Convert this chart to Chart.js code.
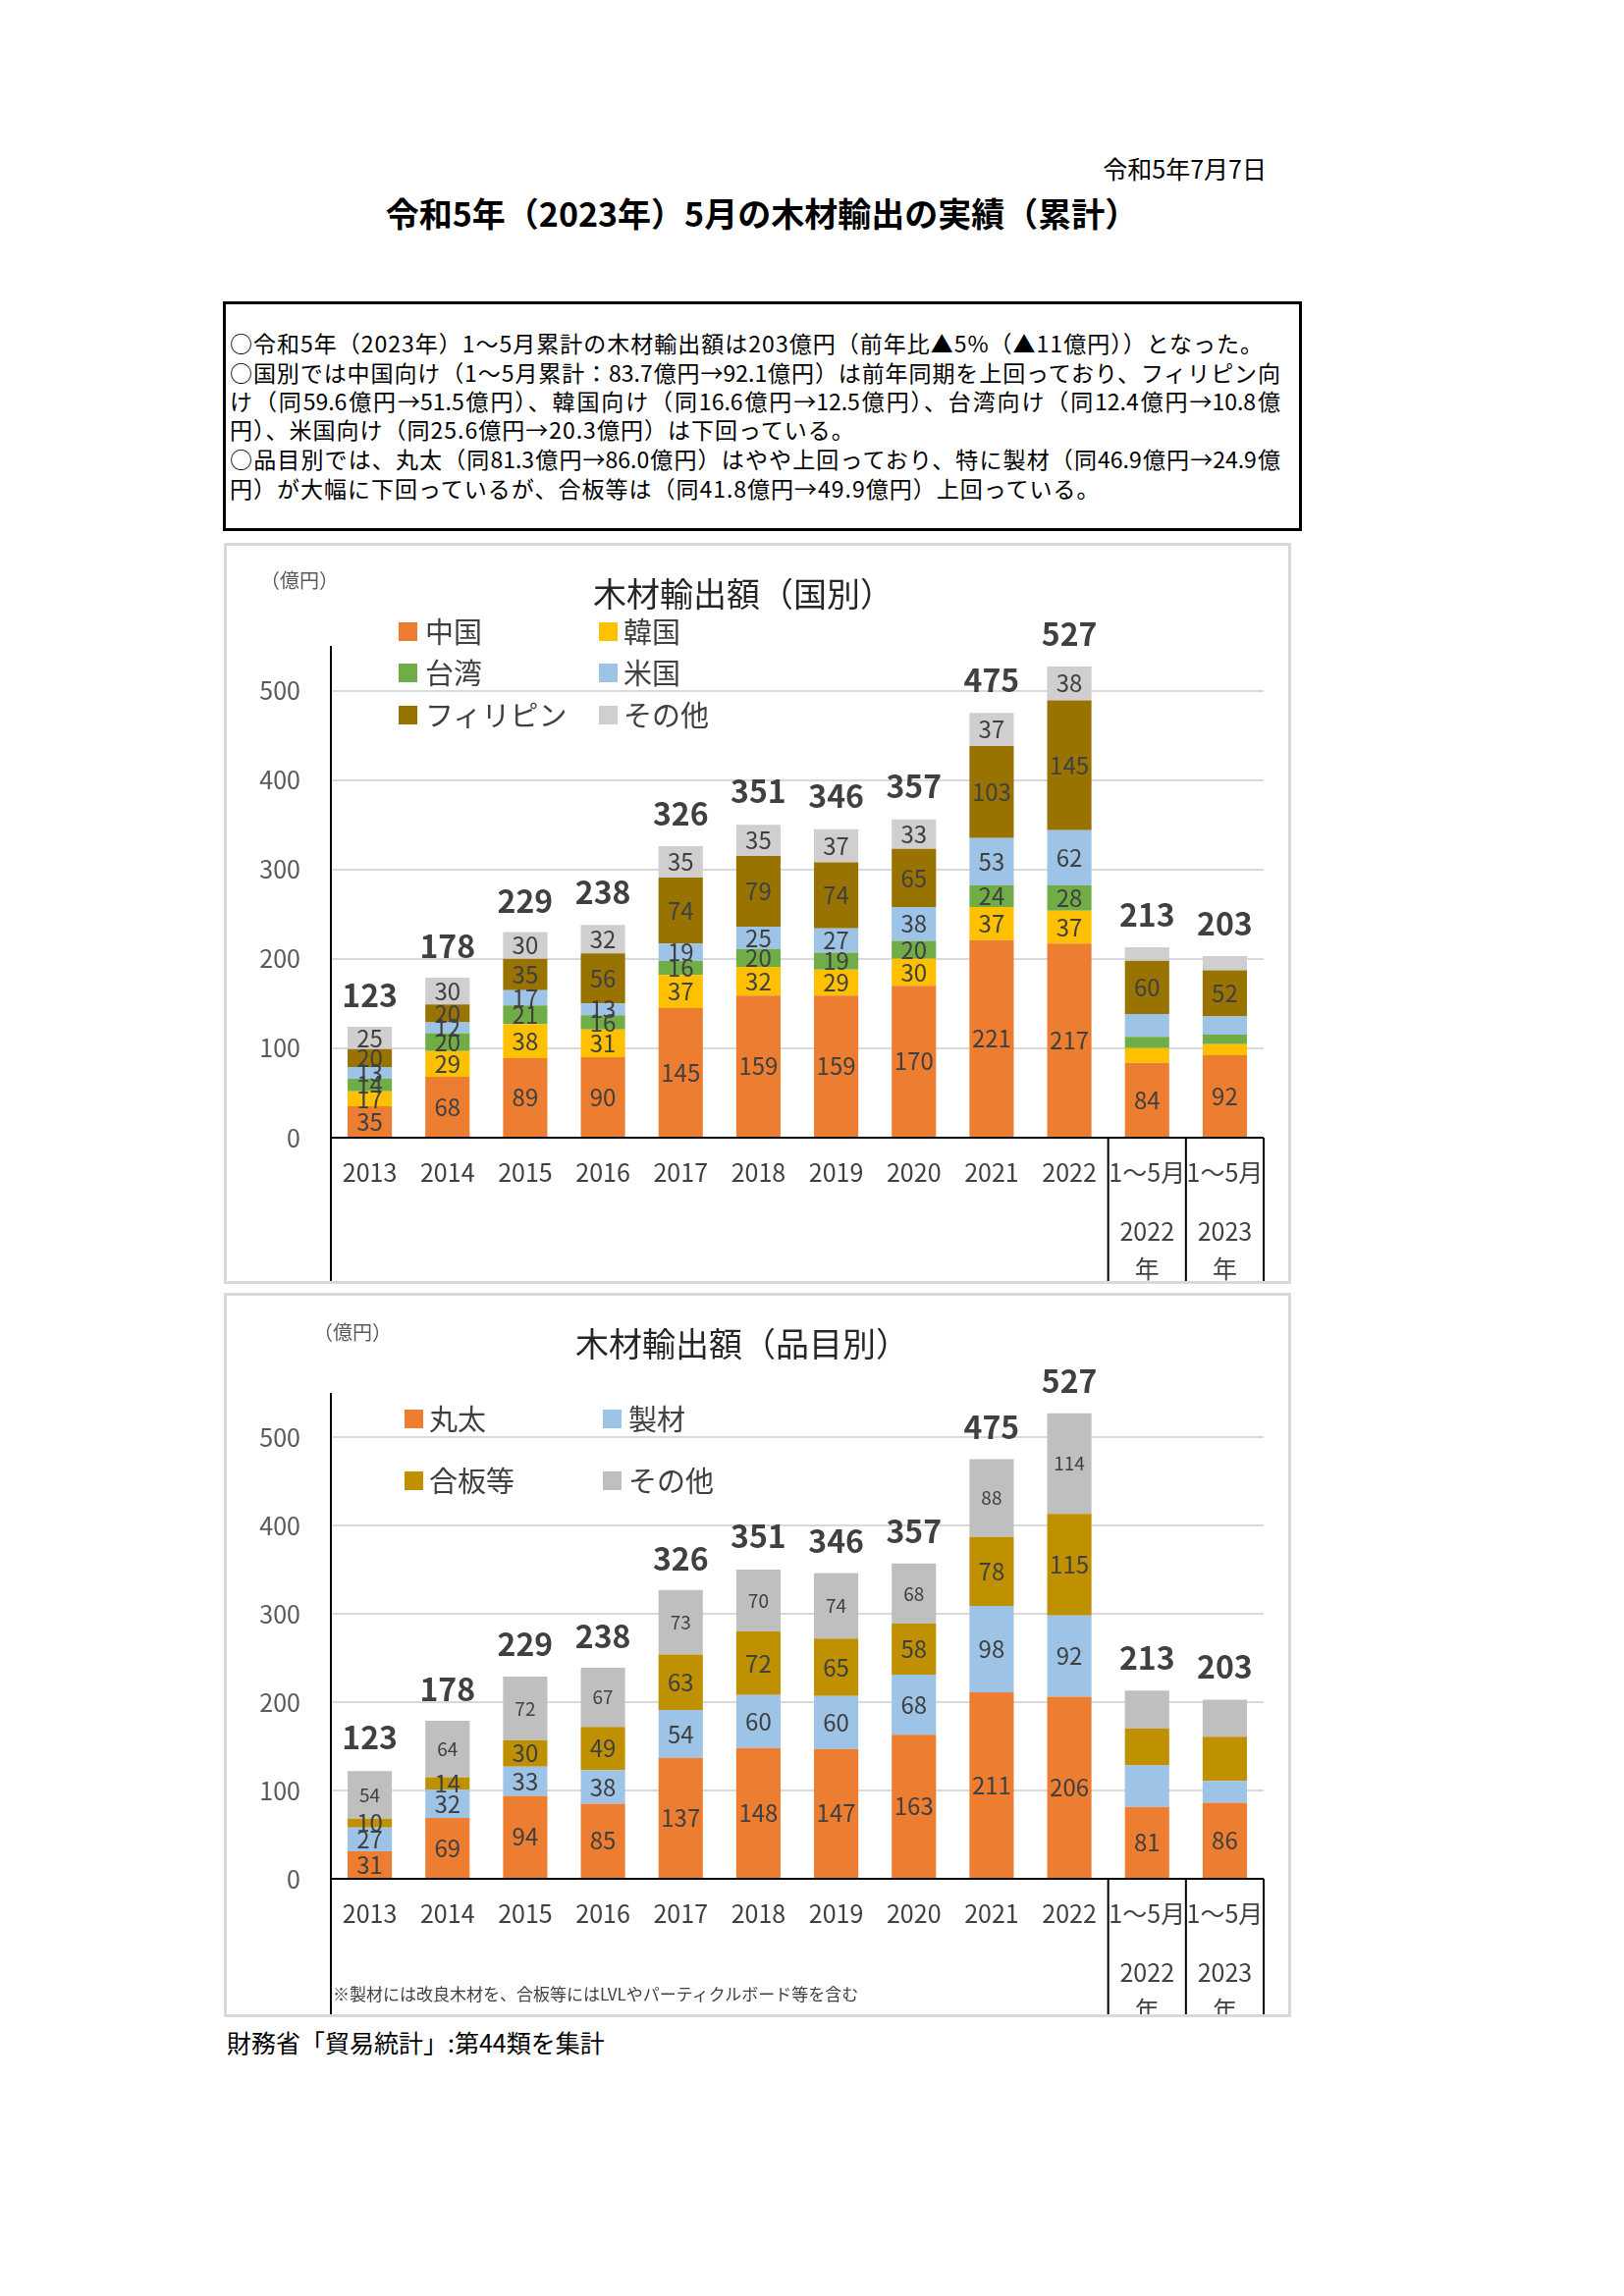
<!DOCTYPE html>
<html lang="ja">
<head>
<meta charset="utf-8">
<script src="https://cdn.jsdelivr.net/npm/chart.js@4.4.0/dist/chart.umd.min.js"></script>
<style>
  body { margin:0; width:1654px; height:2339px; background:#fff; position:relative;
         font-family:"Noto Sans CJK JP", sans-serif; color:#000; overflow:hidden; }
  .abs { position:absolute; white-space:nowrap; line-height:1; }
  .panel { position:absolute; border:3px solid #d9d9d9; box-sizing:border-box; pointer-events:none; }
  .wrap { position:absolute; }
  .line { position:absolute; left:234px; width:1070px; font-size:23px; white-space:nowrap; line-height:1; letter-spacing:1px; }
  .just { text-align:justify; text-align-last:justify; letter-spacing:0; }
  .lg { position:absolute; font-size:29px; color:#404040; white-space:nowrap; line-height:1; }
  .lg i { position:absolute; width:19px; height:19px; top:6px; }
</style>
</head>
<body>

<div class="abs" style="right:364px;top:159px;font-size:25px;">令和5年7月7日</div>
<div class="abs" style="left:0;width:1552px;text-align:center;top:200px;font-size:34px;font-weight:700;">令和5年（2023年）5月の木材輸出の実績（累計）</div>

<div style="position:absolute;left:227px;top:307px;width:1099px;height:234px;border:3px solid #000;box-sizing:border-box;"></div>
<div class="line" style="top:338px;">○令和5年（2023年）1～5月累計の木材輸出額は203億円（前年比▲5%（▲11億円））となった。</div>
<div class="line just" style="top:368px;">○国別では中国向け（1～5月累計：83.7億円→92.1億円）は前年同期を上回っており、フィリピン向</div>
<div class="line just" style="top:397px;">け（同59.6億円→51.5億円）、韓国向け（同16.6億円→12.5億円）、台湾向け（同12.4億円→10.8億</div>
<div class="line" style="top:426px;">円）、米国向け（同25.6億円→20.3億円）は下回っている。</div>
<div class="line just" style="top:456px;">○品目別では、丸太（同81.3億円→86.0億円）はやや上回っており、特に製材（同46.9億円→24.9億</div>
<div class="line" style="top:486px;">円）が大幅に下回っているが、合板等は（同41.8億円→49.9億円）上回っている。</div>

<div class="wrap" style="left:228px;top:553px;width:1087px;height:755px;"><canvas id="c1"></canvas></div>
<div class="panel" style="left:228px;top:553px;width:1087px;height:755px;"></div>
<div class="abs" style="left:265px;top:581px;font-size:20px;color:#595959;">（億円）</div>
<div class="abs" style="left:604px;top:587px;font-size:34px;color:#262626;">木材輸出額（国別）</div>
<div id="lg1"></div>

<div class="wrap" style="left:228px;top:1317px;width:1087px;height:738px;"><canvas id="c2"></canvas></div>
<div class="panel" style="left:228px;top:1317px;width:1087px;height:738px;"></div>
<div class="abs" style="left:319px;top:1347px;font-size:20px;color:#595959;">（億円）</div>
<div class="abs" style="left:586px;top:1351px;font-size:34px;color:#262626;">木材輸出額（品目別）</div>
<div id="lg2"></div>
<div class="abs" style="left:339px;top:2022px;font-size:17px;color:#404040;">※製材には改良木材を、合板等にはLVLやパーティクルボード等を含む</div>

<div class="abs" style="left:231px;top:2068px;font-size:25px;">財務省「貿易統計」:第44類を集計</div>

<script>
// categories
var years = ['2013','2014','2015','2016','2017','2018','2019','2020','2021','2022','1～5月','1～5月'];
var subLabels = [['2022','年'], ['2023','年']];

// 国別 (億円)
var countryNames = ['中国','韓国','台湾','米国','フィリピン','その他'];
var countryColors = ['#ED7D31','#FFC000','#70AD47','#9DC3E6','#997300','#D0CECE'];
var china       = [35, 68, 89, 90, 145, 159, 159, 170, 221, 217, 83.7, 92.1];
var korea       = [17, 29, 38, 31, 37, 32, 29, 30, 37, 37, 16.6, 12.5];
var taiwan      = [14, 20, 21, 16, 16, 20, 19, 20, 24, 28, 12.4, 10.8];
var usa         = [13, 12, 17, 13, 19, 25, 27, 38, 53, 62, 25.6, 20.3];
var philippines = [20, 20, 35, 56, 74, 79, 74, 65, 103, 145, 59.6, 51.5];
var otherCountry = [25, 30, 30, 32, 35, 35, 37, 33, 37, 38, 15, 16];
var countryTotals = [123, 178, 229, 238, 326, 351, 346, 357, 475, 527, 213, 203];

// 品目別 (億円)
var itemNames = ['丸太','製材','合板等','その他'];
var itemColors = ['#ED7D31','#9DC3E6','#BF9000','#BFBFBF'];
var logs     = [31, 69, 94, 85, 137, 148, 147, 163, 211, 206, 81.3, 86.0];
var lumber   = [27, 32, 33, 38, 54, 60, 60, 68, 98, 92, 46.9, 24.9];
var plywood  = [10, 14, 30, 49, 63, 72, 65, 58, 78, 115, 41.8, 49.9];
var otherItem = [54, 64, 72, 67, 73, 70, 74, 68, 88, 114, 43, 42];
var itemTotals = [123, 178, 229, 238, 326, 351, 346, 357, 475, 527, 213, 203];

var FONT = '"Noto Sans CJK JP", sans-serif';

/* values inside the segments + the bold totals on top */
var barLabels = {
  id: 'barLabels',
  afterDatasetsDraw: function(chart, args, opts) {
    var ctx = chart.ctx, ys = chart.scales.y, xs = chart.scales.x;
    ctx.save();
    ctx.textAlign = 'center';
    ctx.textBaseline = 'middle';
    ctx.fillStyle = '#404040';
    chart.data.datasets.forEach(function(ds, i) {
      var meta = chart.getDatasetMeta(i);
      ctx.font = (opts.sizes[i] || 24) + 'px ' + FONT;
      meta.data.forEach(function(bar, j) {
        if (j >= 10 && opts.partial.indexOf(i) < 0) return;
        ctx.fillText(Math.round(ds.data[j]), bar.x, (bar.y + bar.base) / 2);
      });
    });
    ctx.font = 'bold 32px ' + FONT;
    opts.totals.forEach(function(t, j) {
      ctx.fillText(t, xs.getPixelForValue(j), ys.getPixelForValue(t) - 33);
    });
    ctx.restore();
  }
};

/* black axes, the separators under the 1～5月 bars and their second label row */
var axisLines = {
  id: 'axisLines',
  afterDraw: function(chart) {
    var ctx = chart.ctx, a = chart.chartArea, xs = chart.scales.x, ys = chart.scales.y;
    var zero = ys.getPixelForValue(0);
    var half = (xs.getPixelForValue(1) - xs.getPixelForValue(0)) / 2;
    ctx.save();
    ctx.strokeStyle = '#000';
    ctx.lineWidth = 2;
    ctx.beginPath();
    ctx.moveTo(a.left, a.top); ctx.lineTo(a.left, chart.height);
    ctx.moveTo(a.left, zero); ctx.lineTo(a.right, zero);
    [10, 11].forEach(function(j) {
      var x = xs.getPixelForValue(j) - half;
      ctx.moveTo(x, zero); ctx.lineTo(x, chart.height);
    });
    ctx.moveTo(a.right, zero); ctx.lineTo(a.right, chart.height);
    ctx.stroke();
    ctx.fillStyle = '#404040';
    ctx.font = '25px ' + FONT;
    ctx.textAlign = 'center';
    ctx.textBaseline = 'middle';
    subLabels.forEach(function(s, k) {
      var x = xs.getPixelForValue(10 + k);
      ctx.fillText(s[0], x, zero + 95);
      ctx.fillText(s[1], x, zero + 133);
    });
    ctx.restore();
  }
};

function makeChart(id, names, colors, series, totals, partial, sizes, padTop, xHeight) {
  var datasets = names.map(function(n, i) {
    return { label: n, data: series[i], backgroundColor: colors[i],
             barPercentage: 0.57, categoryPercentage: 1 };
  });
  return new Chart(document.getElementById(id), {
    type: 'bar',
    data: { labels: years, datasets: datasets },
    plugins: [barLabels, axisLines],
    options: {
      responsive: true,
      maintainAspectRatio: false,
      animation: false,
      layout: { padding: { top: padTop, right: 28, left: 0, bottom: 0 } },
      plugins: {
        legend: { display: false },
        tooltip: { enabled: false },
        barLabels: { totals: totals, partial: partial, sizes: sizes }
      },
      scales: {
        x: {
          stacked: true,
          grid: { display: false },
          border: { display: false },
          ticks: { color: '#404040', font: { family: FONT, size: 25 }, padding: 12,
                   autoSkip: false, maxRotation: 0 },
          afterFit: function(s) { s.height = xHeight; }
        },
        y: {
          stacked: true,
          min: 0, max: 550,
          grid: { color: '#D9D9D9', lineWidth: 2, drawTicks: false },
          border: { display: false },
          ticks: { stepSize: 100, color: '#595959', font: { family: FONT, size: 25 }, padding: 31 },
          afterBuildTicks: function(s) { s.ticks = s.ticks.filter(function(t) { return t.value % 100 === 0; }); },
          afterFit: function(s) { s.width = 109; }
        }
      }
    }
  });
}

function makeLegend(id, names, colors, rows, boxX, textX) {
  var el = document.getElementById(id);
  names.forEach(function(n, i) {
    var c = i % 2, r = Math.floor(i / 2);
    var d = document.createElement('div');
    d.className = 'lg';
    d.style.left = boxX[c] + 'px';
    d.style.top = (rows[r] - 15) + 'px';
    d.style.paddingLeft = (textX[c] - boxX[c]) + 'px';
    d.innerHTML = '<i style="left:0;background:' + colors[i] + '"></i>' + n;
    el.appendChild(d);
  });
}

makeChart('c1', countryNames, countryColors,
  [china, korea, taiwan, usa, philippines, otherCountry], countryTotals,
  [0, 4], [24, 24, 24, 24, 24, 24], 105, 149);
makeChart('c2', itemNames, itemColors,
  [logs, lumber, plywood, otherItem], itemTotals,
  [0], [24, 24, 24, 19], 102, 141);

makeLegend('lg1', countryNames, countryColors, [643, 685, 728], [406, 610], [433, 635]);
makeLegend('lg2', itemNames, itemColors, [1445, 1508], [412, 614], [437, 640]);
</script>
</body>
</html>
